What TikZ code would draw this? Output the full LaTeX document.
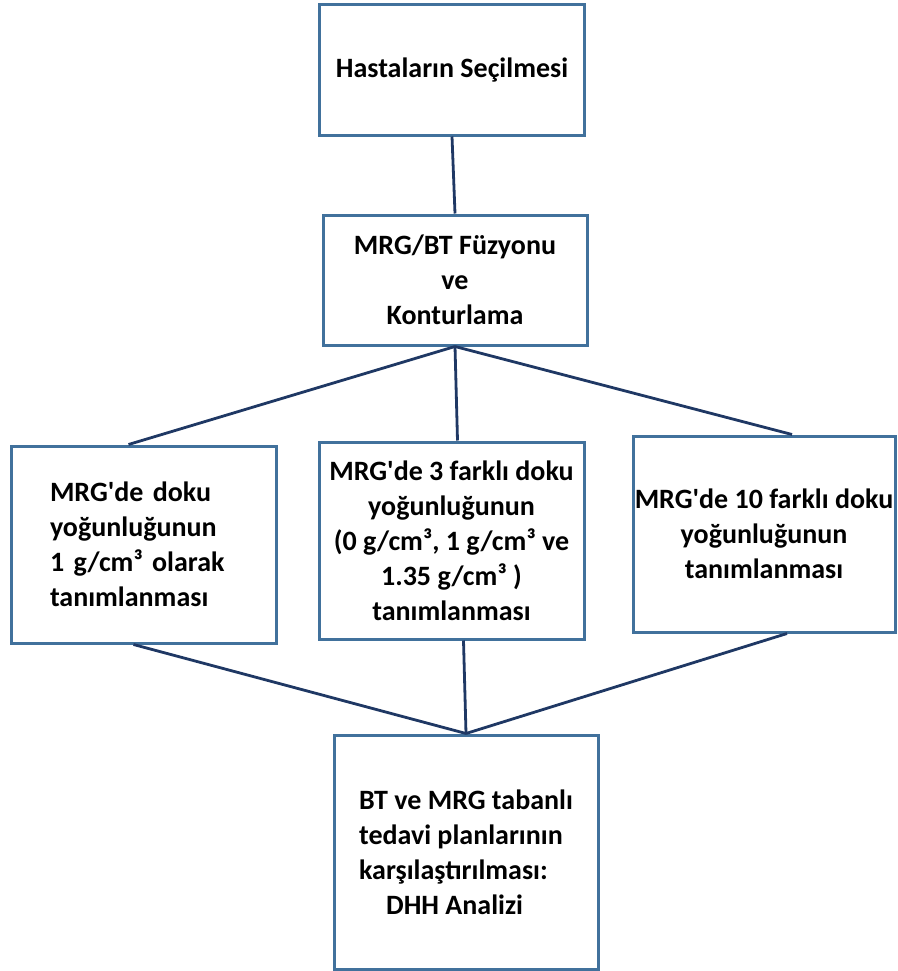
\documentclass[tikz,border=0pt]{standalone}
\usepackage{fontspec}
\setmainfont{Carlito}
\usetikzlibrary{positioning}

\definecolor{boxblue}{RGB}{65,113,156}
\definecolor{linknavy}{RGB}{31,56,100}

\begin{document}
\begin{tikzpicture}[
    x=1pt, y=-1pt,
    every node/.style={font=\bfseries\fontsize{28}{35}\selectfont},
    box/.style={draw=boxblue, line width=3pt, inner sep=0pt, align=center},
    link/.style={draw=linknavy, line width=2.8pt}
]
\useasboundingbox (0,0) rectangle (897,971);

% Top of the flow
\node[box, minimum width=265pt, minimum height=130pt] (select) at (452,70) {Hastaların Seçilmesi};
\node[box, minimum width=264pt, minimum height=130pt] (fusion) at (455,280) {MRG/BT Füzyonu\\ve\\Konturlama};

% Three density definitions
\node[box, minimum width=265pt, minimum height=197pt, text width=187pt, align=left] (dens1) at (143.5,544.5)
    {MRG\textquotesingle de doku\\yoğunluğunun\\1 g/cm³ olarak\\tanımlanması};
\node[box, minimum width=265pt, minimum height=197pt] (dens3) at (451.5,540.5)
    {MRG\textquotesingle de 3 farklı doku\\yoğunluğunun\\(0 g/cm³, 1 g/cm³ ve\\1.35 g/cm³ )\\tanımlanması};
\node[box, minimum width=262pt, minimum height=196pt] (dens10) at (764,534)
    {MRG\textquotesingle de 10 farklı doku\\yoğunluğunun\\tanımlanması};

% Comparison
\node[box, minimum width=264pt, minimum height=234pt, align=left] (compare) at (466,852)
    {BT ve MRG tabanlı\\tedavi planlarının\\karşılaştırılması:\\\hspace*{27pt}DHH Analizi};

% Connectors
\draw[link] (select.south) -- (fusion.north);
\draw[link] (fusion.south) -- ([xshift=-15pt]dens1.north);
\draw[link] (fusion.south) -- ([xshift=6pt]dens3.north);
\draw[link] (fusion.south) -- ([xshift=28pt]dens10.north);
\draw[link] ([xshift=-10pt]dens1.south) -- (compare.north);
\draw[link] ([xshift=12pt]dens3.south) -- (compare.north);
\draw[link] ([xshift=23pt]dens10.south) -- (compare.north);

\end{tikzpicture}
\end{document}
